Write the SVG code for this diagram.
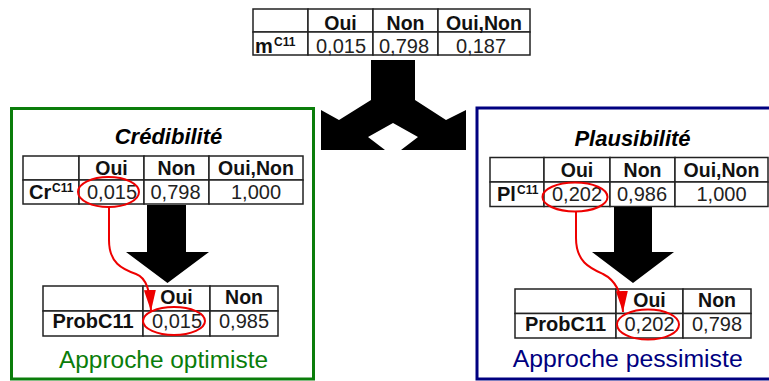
<svg xmlns="http://www.w3.org/2000/svg" width="769" height="381" viewBox="0 0 769 381">
<style>
.cell{fill:#fff;stroke:#222;stroke-width:1.5}
.hd{font-family:"Liberation Sans",Arial,sans-serif;font-weight:bold;font-size:19.5px;fill:#111;text-anchor:middle}
.lb{font-family:"Liberation Sans",Arial,sans-serif;font-weight:bold;font-size:20px;fill:#111}
.sup{font-family:"Liberation Sans",Arial,sans-serif;font-weight:bold;font-size:12px;fill:#111}
.val{font-family:"Liberation Sans",Arial,sans-serif;font-size:20px;fill:#222;text-anchor:middle}
.title{font-family:"Liberation Sans",Arial,sans-serif;font-weight:bold;font-style:italic;font-size:22px;fill:#000;text-anchor:middle}
.app{font-family:"Liberation Sans",Arial,sans-serif;font-size:23px;text-anchor:middle}
.ring{fill:none;stroke:#e00;stroke-width:2}
.red{fill:none;stroke:#e00;stroke-width:2}
.big{fill:#000}
</style>
<defs>
<marker id="rh" markerUnits="userSpaceOnUse" markerWidth="22" markerHeight="14" refX="21" refY="7" orient="auto">
<path d="M0,1 L21,7 L0,13 z" fill="#e00"/>
</marker>
</defs>

<g id="box-optimiste">
<rect x="11.5" y="108.5" width="302" height="270.5" fill="none" stroke="#0a7d0a" stroke-width="3"/>
<text class="app" x="163.5" y="368" fill="#0a7d0a" textLength="209" lengthAdjust="spacingAndGlyphs">Approche optimiste</text>
</g>
<g id="box-pessimiste">
<rect x="477" y="108" width="300" height="271" fill="none" stroke="#000080" stroke-width="3"/>
<text class="app" x="627.7" y="367" fill="#000080" textLength="230" lengthAdjust="spacingAndGlyphs">Approche pessimiste</text>
</g>

<g id="table-m">
<rect class="cell" x="253" y="9" width="55" height="23"/>
<rect class="cell" x="308" y="9" width="65" height="23"/>
<rect class="cell" x="373" y="9" width="65" height="23"/>
<rect class="cell" x="438" y="9" width="92" height="23"/>
<rect class="cell" x="253" y="32" width="55" height="23"/>
<rect class="cell" x="308" y="32" width="65" height="23"/>
<rect class="cell" x="373" y="32" width="65" height="23"/>
<rect class="cell" x="438" y="32" width="92" height="23"/>
<text class="hd" x="340.5" y="30">Oui</text>
<text class="hd" x="405.5" y="30">Non</text>
<text class="hd" x="484" y="30">Oui,Non</text>
<text class="lb" x="255" y="53" font-size="22">m</text>
<text class="sup" x="274" y="46">C11</text>
<text class="val" x="341" y="53">0,015</text>
<text class="val" x="404" y="53">0,798</text>
<text class="val" x="481" y="53">0,187</text>
</g>

<g id="table-cr">
<text class="title" x="168.5" y="144">Crédibilité</text>
<rect class="cell" x="23" y="156" width="56" height="24"/>
<rect class="cell" x="79" y="156" width="65" height="24"/>
<rect class="cell" x="144" y="156" width="65" height="24"/>
<rect class="cell" x="209" y="156" width="94" height="24"/>
<rect class="cell" x="23" y="180" width="56" height="24"/>
<rect class="cell" x="79" y="180" width="65" height="24"/>
<rect class="cell" x="144" y="180" width="65" height="24"/>
<rect class="cell" x="209" y="180" width="94" height="24"/>
<text class="hd" x="111.5" y="175">Oui</text>
<text class="hd" x="176.5" y="175">Non</text>
<text class="hd" x="256" y="175">Oui,Non</text>
<text class="lb" x="29" y="199">Cr</text>
<text class="sup" x="52" y="192">C11</text>
<text class="val" x="112" y="199">0,015</text>
<text class="val" x="175.5" y="199">0,798</text>
<text class="val" x="256" y="199">1,000</text>
<ellipse class="ring" cx="108.5" cy="192" rx="30.5" ry="15"/>
</g>

<g id="table-pl">
<text class="title" x="632.5" y="145.5">Plausibilité</text>
<rect class="cell" x="490" y="157.5" width="54" height="24.5"/>
<rect class="cell" x="544" y="157.5" width="66" height="24.5"/>
<rect class="cell" x="610" y="157.5" width="65" height="24.5"/>
<rect class="cell" x="675" y="157.5" width="93" height="24.5"/>
<rect class="cell" x="490" y="182" width="54" height="24.5"/>
<rect class="cell" x="544" y="182" width="66" height="24.5"/>
<rect class="cell" x="610" y="182" width="65" height="24.5"/>
<rect class="cell" x="675" y="182" width="93" height="24.5"/>
<text class="hd" x="577" y="176.5">Oui</text>
<text class="hd" x="642.5" y="176.5">Non</text>
<text class="hd" x="721.5" y="176.5">Oui,Non</text>
<text class="lb" x="497" y="200.5" font-size="21">Pl</text>
<text class="sup" x="517" y="193.5">C11</text>
<text class="val" x="577" y="200.5">0,202</text>
<text class="val" x="642" y="200.5">0,986</text>
<text class="val" x="721.5" y="200.5">1,000</text>
<ellipse class="ring" cx="575" cy="197" rx="32.5" ry="14.5"/>
</g>

<g id="table-prob-opt">
<rect class="cell" x="43" y="286" width="100" height="25"/>
<rect class="cell" x="143" y="286" width="67" height="25"/>
<rect class="cell" x="210" y="286" width="68" height="25"/>
<rect class="cell" x="43" y="311" width="100" height="25"/>
<rect class="cell" x="143" y="311" width="67" height="25"/>
<rect class="cell" x="210" y="311" width="68" height="25"/>
<text class="hd" x="176.5" y="304">Oui</text>
<text class="hd" x="244" y="304">Non</text>
<text class="lb" x="93" y="328" text-anchor="middle">ProbC11</text>
<text class="val" x="177" y="328">0,015</text>
<text class="val" x="244" y="328">0,985</text>
<ellipse class="ring" cx="174" cy="321" rx="31" ry="14"/>
</g>

<g id="table-prob-pes">
<rect class="cell" x="515" y="289" width="101" height="24.5"/>
<rect class="cell" x="616" y="289" width="67" height="24.5"/>
<rect class="cell" x="683" y="289" width="68" height="24.5"/>
<rect class="cell" x="515" y="313.5" width="101" height="24.5"/>
<rect class="cell" x="616" y="313.5" width="67" height="24.5"/>
<rect class="cell" x="683" y="313.5" width="68" height="24.5"/>
<text class="hd" x="649.5" y="306.5">Oui</text>
<text class="hd" x="717" y="306.5">Non</text>
<text class="lb" x="565.5" y="331" text-anchor="middle">ProbC11</text>
<text class="val" x="649.5" y="331">0,202</text>
<text class="val" x="717" y="331">0,798</text>
<ellipse class="ring" cx="648" cy="324.5" rx="31" ry="15"/>
</g>

<g id="connectors">
<polygon class="big" points="371,60 415,60 415,100 446,120 466,110 466,150 401,150 418,137 393,123 368,137 385,150 321,150 321,110 339,120 371,100"/>
<polygon class="big" points="147,205 186,205 186,252 209,252 167.5,283 126,252 147,252"/>
<polygon class="big" points="614,207 652,207 652,252 674,252 633,283 592,252 614,252"/>
<path class="red" d="M109,207 V240 C109,263 122,269 136,274 C147,278 150,292 151,311" marker-end="url(#rh)"/>
<path class="red" d="M576,211.5 V238 C576,262 590,268 603,274 C615,280 622,293 623,312" marker-end="url(#rh)"/>
</g>
</svg>
